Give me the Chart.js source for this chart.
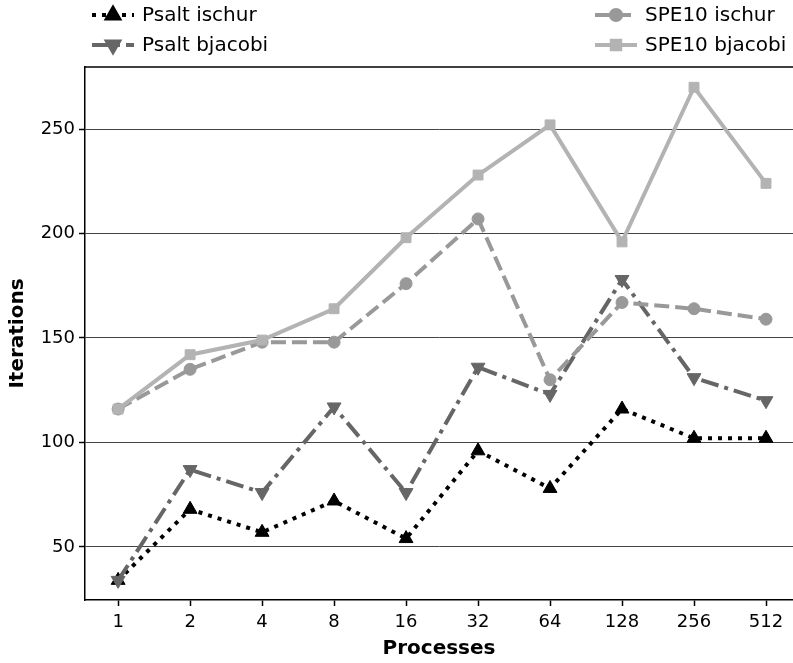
<!DOCTYPE html>
<html>
<head>
<meta charset="utf-8">
<script src="https://cdn.jsdelivr.net/npm/chart.js"></script>
<style>
  html, body { margin: 0; padding: 0; background: #fff; overflow: hidden; }
  #wrap { width: 793px; height: 663px; position: relative; }
</style>
</head>
<body>
<div id="wrap"><canvas id="myChart"></canvas></div>
<script>
const processes = ["1", "2", "4", "8", "16", "32", "64", "128", "256", "512"];
const psaltIschur = [34, 68, 57, 72, 54, 96, 78, 116, 102, 102];
const psaltBjacobi = [34, 87, 76, 117, 76, 136, 123, 178, 131, 120];
const spe10Ischur = [116, 135, 148, 148, 176, 207, 130, 167, 164, 159];
const spe10Bjacobi = [116, 142, 149, 164, 198, 228, 252, 196, 270, 224];
const yTicks = [50, 100, 150, 200, 250];

const FONT = "'DejaVu Sans', sans-serif";
const pts = (arr) => arr.map((v, i) => ({ x: i, y: v }));

const series = [
    { label: "SPE10 bjacobi", data: spe10Bjacobi, color: "#b3b3b3", dash: [], style: "rect", radius: 7, rot: 0 },
    { label: "SPE10 ischur", data: spe10Ischur, color: "#999999", dash: [15, 6], style: "circle", radius: 6, rot: 0 },
    { label: "Psalt bjacobi", data: psaltBjacobi, color: "#666666", dash: [18, 6, 4, 6], style: "triangle", radius: 8, rot: 180 },
    { label: "Psalt ischur", data: psaltIschur, color: "#000000", dash: [4, 6], style: "triangle", radius: 8, rot: 0 },
];

// legend drawn by hand: two entries on the left, two on the right
const legendPos = {
    "Psalt ischur": { x: 92, y: 15 },
    "Psalt bjacobi": { x: 92, y: 45 },
    "SPE10 ischur": { x: 595, y: 15 },
    "SPE10 bjacobi": { x: 595, y: 45 },
};

const legendPlugin = {
    id: "manualLegend",
    afterDraw(chart) {
        const ctx = chart.ctx;
        const a = chart.chartArea;
        ctx.save();
        // top spine
        ctx.strokeStyle = "#000";
        ctx.lineWidth = 1.5;
        ctx.beginPath();
        ctx.moveTo(a.left, a.top);
        ctx.lineTo(a.right, a.top);
        ctx.stroke();

        series.forEach((s) => {
            const p = legendPos[s.label];
            ctx.strokeStyle = s.color;
            ctx.lineWidth = 4;
            ctx.setLineDash(s.dash);
            ctx.beginPath();
            ctx.moveTo(p.x, p.y);
            ctx.lineTo(p.x + 42, p.y);
            ctx.stroke();
            ctx.setLineDash([]);
            ctx.fillStyle = s.color;
            Chart.helpers.drawPoint(ctx, {
                pointStyle: s.style, radius: s.radius * 0.85, rotation: s.rot, borderWidth: 1,
            }, p.x + 21, p.y);
            ctx.fillStyle = "#000";
            ctx.font = "20px " + FONT;
            ctx.textBaseline = "middle";
            ctx.fillText(s.label, p.x + 50, p.y + 1);
        });
        ctx.restore();
    },
};

const ctx = document.getElementById("myChart");

new Chart(ctx, {
    type: "line",
    data: {
        datasets: series.map((s) => ({
            label: s.label,
            data: pts(s.data),
            borderColor: s.color,
            backgroundColor: s.color,
            borderWidth: 4,
            borderDash: s.dash,
            pointStyle: s.style,
            pointRadius: s.radius,
            pointRotation: s.rot,
            pointBorderWidth: 1,
            pointHoverRadius: s.radius,
            tension: 0,
            clip: false,
        })),
    },
    options: {
        responsive: true,
        maintainAspectRatio: false,
        animation: false,
        layout: { autoPadding: false, padding: { top: 67, left: 0, right: 0, bottom: 0 } },
        scales: {
            x: {
                type: "linear",
                min: -0.46,
                max: 9.375,
                afterBuildTicks: (axis) => {
                    axis.ticks = processes.map((_, i) => ({ value: i }));
                },
                afterFit: (axis) => {
                    axis.height = 63;
                    axis.paddingLeft = 0;
                    axis.paddingRight = 0;
                },
                border: { color: "#000", width: 1.5 },
                grid: { drawOnChartArea: false, drawTicks: true, tickLength: 6, color: "#000", tickWidth: 1.5 },
                ticks: {
                    color: "#000",
                    font: { family: FONT, size: 18 },
                    padding: 6,
                    maxRotation: 0,
                    callback: (v) => processes[v],
                },
                title: {
                    display: true,
                    text: "Processes",
                    color: "#000",
                    font: { family: FONT, size: 20, weight: "bold" },
                    padding: { top: 0, bottom: 2 },
                },
            },
            y: {
                min: 24.6,
                max: 279.7,
                afterBuildTicks: (axis) => {
                    axis.ticks = yTicks.map((v) => ({ value: v }));
                },
                afterFit: (axis) => {
                    axis.width = 85;
                    axis.paddingTop = 0;
                    axis.paddingBottom = 0;
                },
                border: { color: "#000", width: 1.5 },
                grid: { color: "#444", lineWidth: 1, drawTicks: true, tickLength: 6, tickColor: "#000", tickWidth: 1.5 },
                ticks: {
                    color: "#000",
                    font: { family: FONT, size: 18 },
                    padding: 4,
                },
                title: {
                    display: true,
                    text: "Iterations",
                    color: "#000",
                    font: { family: FONT, size: 20, weight: "bold" },
                    padding: { top: 6, bottom: 4 },
                },
            },
        },
        plugins: {
            legend: { display: false },
            tooltip: { enabled: false },
        },
    },
    plugins: [legendPlugin],
});
</script>
</body>
</html>
